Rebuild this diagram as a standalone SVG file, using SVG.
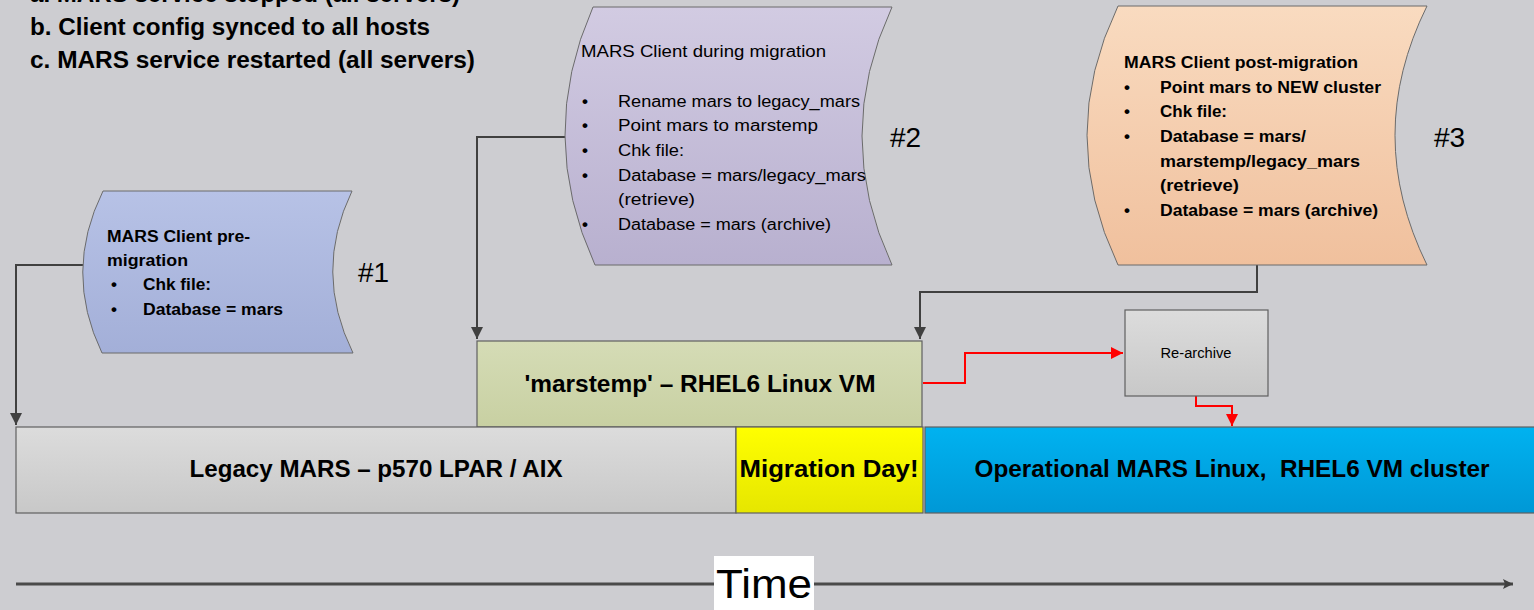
<svg xmlns="http://www.w3.org/2000/svg" width="1534" height="610" viewBox="0 0 1534 610">
<style>
text{font-family:"Liberation Sans",Arial,sans-serif;fill:#000}
.b{font-weight:bold}
.shape{stroke:#6b6b6b;stroke-width:1}
.box{stroke:#606060;stroke-width:1.2}
.hdr{font-size:23px;font-weight:bold}
.st{font-size:16px}
.bl{font-size:17px;font-weight:bold}
.bar{font-size:23px;font-weight:bold;white-space:pre}
.num{font-size:28px}
.gc{fill:none;stroke:#404040;stroke-width:2}
.rc{fill:none;stroke:#ff0000;stroke-width:2}
</style>
<defs>
<linearGradient id="gBlue" x1="0" y1="0" x2="0" y2="1"><stop offset="0" stop-color="#b7c2e6"/><stop offset="1" stop-color="#a3afd8"/></linearGradient>
<linearGradient id="gPurp" x1="0" y1="0" x2="0" y2="1"><stop offset="0" stop-color="#d2cbe2"/><stop offset="1" stop-color="#b8b0cf"/></linearGradient>
<linearGradient id="gOrange" x1="0" y1="0" x2="0" y2="1"><stop offset="0" stop-color="#f9dbc0"/><stop offset="1" stop-color="#f0c09d"/></linearGradient>
<linearGradient id="gGreen" x1="0" y1="0" x2="0" y2="1"><stop offset="0" stop-color="#d5dcb6"/><stop offset="1" stop-color="#c8d0a2"/></linearGradient>
<linearGradient id="gGray" x1="0" y1="0" x2="0" y2="1"><stop offset="0" stop-color="#dcdcdc"/><stop offset="1" stop-color="#c8c8c8"/></linearGradient>
<linearGradient id="gYel" x1="0" y1="0" x2="0" y2="1"><stop offset="0" stop-color="#ffff00"/><stop offset="1" stop-color="#e6e600"/></linearGradient>
<linearGradient id="gCyan" x1="0" y1="0" x2="0" y2="1"><stop offset="0" stop-color="#00b2f0"/><stop offset="1" stop-color="#0098d6"/></linearGradient>
<marker id="aG" markerWidth="14" markerHeight="14" refX="12" refY="6" orient="auto" markerUnits="userSpaceOnUse"><path d="M0,0 L12,6 L0,12 Z" fill="#404040"/></marker>
<marker id="aR" markerWidth="14" markerHeight="14" refX="12" refY="6" orient="auto" markerUnits="userSpaceOnUse"><path d="M0,0 L12,6 L0,12 Z" fill="#ff0000"/></marker>
<marker id="aT" markerWidth="12" markerHeight="12" refX="10" refY="5" orient="auto" markerUnits="userSpaceOnUse"><path d="M0,0 L10,5 L0,10 L2,5 Z" fill="#404040"/></marker>
</defs>
<rect width="1534" height="610" fill="#cdcdd1"/>

<g id="notes">
<text class="hdr" x="30" y="2" textLength="430" lengthAdjust="spacingAndGlyphs">a. MARS service stopped  (all servers)</text>
<text class="hdr" x="30" y="35" textLength="400" lengthAdjust="spacingAndGlyphs">b. Client config synced to all hosts</text>
<text class="hdr" x="30" y="68" textLength="445" lengthAdjust="spacingAndGlyphs">c. MARS service restarted (all servers)</text>
</g>

<g id="connectors">
<path class="gc" d="M84,265 H16 V425" marker-end="url(#aG)"/>
<path class="gc" d="M566,137 H477 V339" marker-end="url(#aG)"/>
<path class="gc" d="M1257,265 V292 H920 V339" marker-end="url(#aG)"/>
<path class="rc" d="M923,383 H965 V353 H1123" marker-end="url(#aR)"/>
<path class="rc" d="M1196,396 V406 H1232 V426" marker-end="url(#aR)"/>
</g>

<g id="n1">
<path class="shape" fill="url(#gBlue)" d="M103,191 L352,191 Q313,272 353,353 L102,353 Q63,272 103,191 Z"/>
<text class="st b" x="107" y="242" textLength="143" lengthAdjust="spacingAndGlyphs">MARS Client pre-</text>
<text class="st b" x="107" y="266" textLength="81" lengthAdjust="spacingAndGlyphs">migration</text>
<text class="bl" x="111" y="290">•</text><text class="st b" x="143" y="290" textLength="68" lengthAdjust="spacingAndGlyphs">Chk file:</text>
<text class="bl" x="111" y="315">•</text><text class="st b" x="143" y="315" textLength="140" lengthAdjust="spacingAndGlyphs">Database = mars</text>
<text class="num" x="358" y="282">#1</text>
</g>

<g id="n2">
<path class="shape" fill="url(#gPurp)" d="M593,7 L892,7 Q832,136 892,265 L595,265 Q536,136 593,7 Z"/>
<text class="st" x="581" y="57" textLength="245" lengthAdjust="spacingAndGlyphs">MARS Client during migration</text>
<text class="bl" x="582" y="107">•</text><text class="st" x="618" y="107" textLength="242" lengthAdjust="spacingAndGlyphs">Rename mars to legacy_mars</text>
<text class="bl" x="582" y="131">•</text><text class="st" x="618" y="131" textLength="200" lengthAdjust="spacingAndGlyphs">Point mars to marstemp</text>
<text class="bl" x="582" y="156">•</text><text class="st" x="618" y="156" textLength="66" lengthAdjust="spacingAndGlyphs">Chk file:</text>
<text class="bl" x="582" y="181">•</text><text class="st" x="618" y="181" textLength="248" lengthAdjust="spacingAndGlyphs">Database = mars/legacy_mars</text>
<text class="st" x="618" y="205" textLength="77" lengthAdjust="spacingAndGlyphs">(retrieve)</text>
<text class="bl" x="582" y="230">•</text><text class="st" x="618" y="230" textLength="213" lengthAdjust="spacingAndGlyphs">Database = mars (archive)</text>
<text class="num" x="890" y="147">#2</text>
</g>

<g id="n3">
<path class="shape" fill="url(#gOrange)" d="M1118,6 L1427,6 Q1363,135 1427,265 L1118,265 Q1056,135 1118,6 Z"/>
<text class="st b" x="1124" y="68" textLength="234" lengthAdjust="spacingAndGlyphs">MARS Client post-migration</text>
<text class="bl" x="1124" y="93">•</text><text class="st b" x="1160" y="93" textLength="221" lengthAdjust="spacingAndGlyphs">Point mars to NEW cluster</text>
<text class="bl" x="1124" y="117">•</text><text class="st b" x="1160" y="117" textLength="67" lengthAdjust="spacingAndGlyphs">Chk file:</text>
<text class="bl" x="1124" y="142">•</text><text class="st b" x="1160" y="142" textLength="146" lengthAdjust="spacingAndGlyphs">Database = mars/</text>
<text class="st b" x="1160" y="167" textLength="200" lengthAdjust="spacingAndGlyphs">marstemp/legacy_mars</text>
<text class="st b" x="1160" y="191" textLength="79" lengthAdjust="spacingAndGlyphs">(retrieve)</text>
<text class="bl" x="1124" y="216">•</text><text class="st b" x="1160" y="216" textLength="218" lengthAdjust="spacingAndGlyphs">Database = mars (archive)</text>
<text class="num" x="1434" y="147">#3</text>
</g>

<g id="marstemp">
<rect class="box" x="477" y="341" width="445" height="86" fill="url(#gGreen)"/>
<text class="bar" x="700" y="392" text-anchor="middle" textLength="351" lengthAdjust="spacingAndGlyphs">'marstemp' – RHEL6 Linux VM</text>
</g>

<g id="rearchive">
<rect class="box" x="1125" y="310" width="143" height="86" fill="url(#gGray)"/>
<text x="1196" y="358" text-anchor="middle" font-size="14" textLength="71" lengthAdjust="spacingAndGlyphs">Re-archive</text>
</g>

<g id="legacy">
<rect class="box" x="16" y="427" width="720" height="86" fill="url(#gGray)"/>
<text class="bar" x="376" y="477" text-anchor="middle" textLength="373" lengthAdjust="spacingAndGlyphs">Legacy MARS – p570 LPAR / AIX</text>
</g>

<g id="migday">
<rect class="box" x="736" y="427" width="187" height="86" fill="url(#gYel)"/>
<text class="bar" x="829" y="477" text-anchor="middle" textLength="179" lengthAdjust="spacingAndGlyphs">Migration Day!</text>
</g>

<g id="operational">
<rect class="box" x="925" y="427" width="615" height="86" fill="url(#gCyan)"/>
<text class="bar" x="1232" y="477" text-anchor="middle" textLength="515" lengthAdjust="spacingAndGlyphs">Operational MARS Linux,  RHEL6 VM cluster</text>
</g>

<g id="timeline">
<path d="M16,584 H1513" stroke="#4a4a4a" stroke-width="3" fill="none" marker-end="url(#aT)"/>
<rect x="714" y="556" width="100" height="54" fill="#ffffff"/>
<text x="764" y="598" text-anchor="middle" font-size="40" textLength="96" lengthAdjust="spacingAndGlyphs">Time</text>
</g>
</svg>
